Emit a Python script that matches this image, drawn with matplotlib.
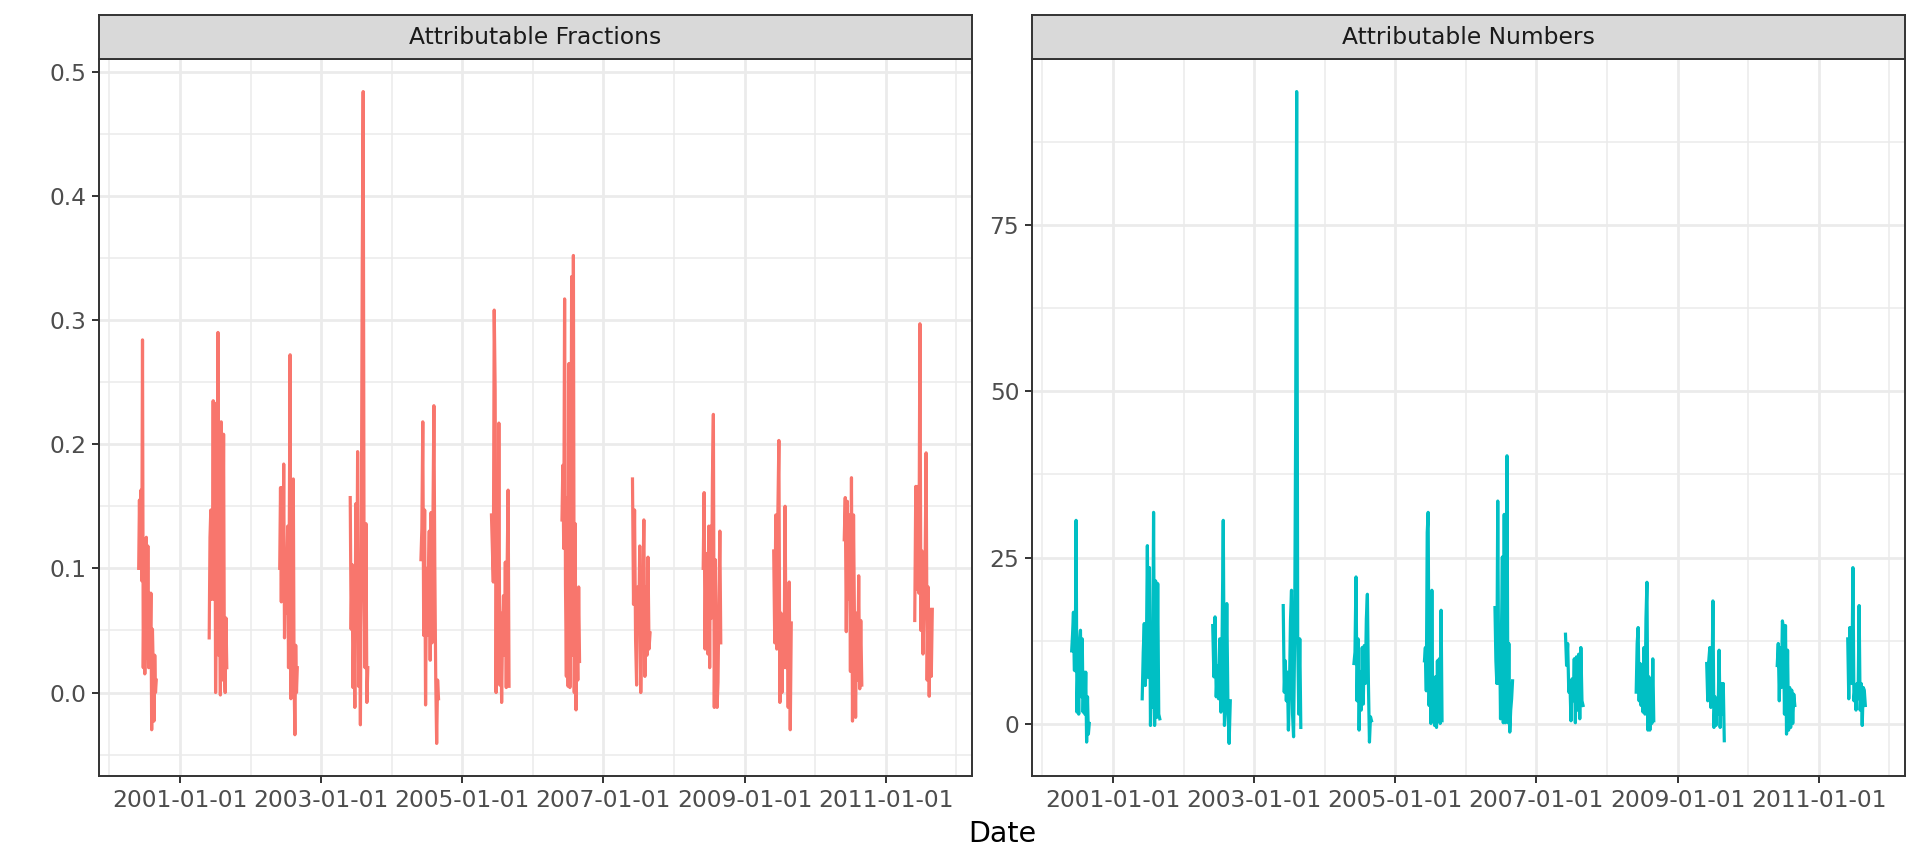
import matplotlib
matplotlib.use("Agg")
import matplotlib.pyplot as plt
import matplotlib.dates as mdates
from matplotlib.ticker import FixedLocator, MultipleLocator
import numpy as np
import pandas as pd

years = list(range(2000, 2012))

af_by_year = {
    2000: [0.10, 0.155, 0.10, 0.163, 0.09, 0.284, 0.02, 0.089, 0.015, 0.05, 0.125, 0.028,
           0.118, 0.02, 0.08, 0.038, 0.08, -0.03, 0.051, 0.02, -0.023, 0.03, 0.0, 0.01],
    2001: [0.044, 0.125, 0.147, 0.075, 0.10, 0.235, 0.075, 0.233, 0.0, 0.08, 0.14, 0.29,
           0.03, 0.09, -0.002, 0.218, 0.01, 0.085, 0.208, 0.02, 0.0, 0.06, 0.02],
    2002: [0.10, 0.165, 0.073, 0.165, 0.08, 0.184, 0.044, 0.093, 0.064, 0.10, 0.134, 0.02,
           0.135, 0.272, -0.005, 0.05, 0.03, 0.172, 0.01, -0.034, 0.038, 0.0, 0.02],
    2003: [0.157, 0.051, 0.103, 0.004, 0.057, -0.012, 0.152, 0.055, 0.194, 0.005, 0.08,
           -0.026, 0.128, 0.345, 0.484, 0.08, 0.02, 0.136, -0.008, 0.02],
    2004: [0.107, 0.132, 0.218, 0.046, 0.147, -0.01, 0.10, 0.046, 0.09, 0.13, 0.026, 0.145,
           0.04, 0.14, 0.231, 0.10, 0.01, -0.041, 0.01, -0.005],
    2005: [0.143, 0.116, 0.089, 0.308, 0.244, 0.0, 0.154, 0.01, 0.217, 0.006, 0.064, -0.008,
           0.05, 0.078, 0.03, 0.105, 0.004, 0.103, 0.163, 0.005],
    2006: [0.139, 0.183, 0.116, 0.317, 0.087, 0.013, 0.157, 0.005, 0.265, 0.004, 0.085, 0.335,
           0.03, 0.352, 0.0, 0.136, -0.014, 0.053, 0.01, 0.085, 0.025],
    2007: [0.172, 0.071, 0.147, 0.042, 0.006, 0.085, 0.051, 0.118, 0.0, 0.06, 0.085, 0.139,
           0.013, 0.085, 0.03, 0.109, 0.035, 0.048],
    2008: [0.10, 0.161, 0.035, 0.112, 0.07, 0.031, 0.134, 0.02, 0.134, 0.06, 0.173, 0.224,
           -0.012, 0.107, 0.03, -0.012, 0.008, 0.075, 0.13, 0.04],
    2009: [0.114, 0.04, 0.143, 0.035, 0.143, 0.203, -0.008, 0.064, 0.0, 0.045, 0.02, 0.15,
           0.02, 0.078, -0.012, 0.089, -0.03, 0.056],
    2010: [0.123, 0.157, 0.049, 0.154, 0.075, 0.143, 0.017, 0.173, -0.023, 0.143, 0.05, -0.02,
           0.064, 0.01, 0.094, 0.003, 0.058, 0.006],
    2011: [0.058, 0.166, 0.083, 0.166, 0.08, 0.297, 0.05, 0.114, 0.031, 0.075, 0.10, 0.193,
           0.01, 0.085, -0.003, 0.067, 0.013, 0.067],
}

an_by_year = {
    2000: [11.0, 13.5, 16.8, 8.1, 8.0, 30.6, 1.8, 8.5, 1.5, 12.5, 14.1, 4.1, 12.8, 1.8, 7.8,
           1.5, 7.8, -2.7, 4.1, -1.5, 0.1],
    2001: [3.8, 10.8, 15.1, 5.8, 10.0, 26.8, 7.0, 23.5, -0.2, 7.5, 2.5, 31.8, -0.2, 21.5,
           1.0, 21.1, 1.5, 0.8],
    2002: [14.8, 7.1, 16.1, 4.1, 8.8, 3.8, 12.8, 1.8, 12.8, 30.6, -0.2, 3.5, 18.1, 2.5,
           -2.9, 3.5],
    2003: [17.8, 4.8, 9.5, 3.5, 7.8, -0.9, 5.0, 15.5, 20.1, 1.5, -1.9, 12.5, 44.1, 95.0,
           12.8, 1.5, 12.8, -0.5],
    2004: [9.1, 10.8, 22.1, 3.5, 12.8, -0.9, 7.8, 2.1, 11.5, 3.0, 11.8, 6.1, 15.8, 19.5,
           6.1, -2.7, 1.1, 0.5],
    2005: [9.5, 11.5, 5.0, 28.8, 31.8, 2.8, 12.1, 0.1, 20.1, 1.5, 6.1, -0.2, 7.1, -0.5,
           9.5, 0.5, 9.8, 0.1, 17.1, 0.5],
    2006: [17.5, 9.5, 6.1, 33.5, 6.1, 13.5, 0.8, 13.5, 25.1, 0.2, 31.5, 0.2, 7.8, 40.3,
           0.2, 12.1, -1.2, 2.1, 3.8, 6.5],
    2007: [13.5, 8.8, 12.1, 4.8, 6.5, 0.5, 6.8, 3.5, 9.8, 0.2, 10.1, 2.1, 10.5, 0.8, 11.5,
           3.5, 2.8],
    2008: [4.8, 12.1, 14.5, 3.5, 9.1, 2.8, 7.5, 1.8, 11.5, 1.5, 15.8, 21.3, -0.9, 7.1,
           -0.9, 3.5, 0.1, 9.8, 0.5],
    2009: [9.1, 3.5, 9.5, 11.5, 2.5, 4.1, 18.5, -0.5, 4.1, -0.2, 3.5, 1.5, 11.1, -0.5,
           6.1, 1.5, 6.1, -2.5],
    2010: [8.8, 12.1, 3.5, 11.5, 5.5, 15.5, 14.5, 1.5, 14.8, -1.5, 11.1, -0.9, 5.5, -0.5,
           5.1, 0.1, 4.5, 2.8],
    2011: [12.8, 3.8, 14.5, 9.1, 6.1, 23.5, 3.5, 5.5, 2.1, 6.1, 3.8, 17.8, 2.1, 6.1,
           -0.2, 5.5, 5.1, 2.8],
}

panel_titles = ["Attributable Fractions", "Attributable Numbers"]
line_colors = ["#F8766D", "#00BFC4"]
x_major = ["2001-01-01", "2003-01-01", "2005-01-01", "2007-01-01", "2009-01-01", "2011-01-01"]
x_minor = ["2000-01-01", "2002-01-01", "2004-01-01", "2006-01-01", "2008-01-01",
           "2010-01-01", "2012-01-01"]

W, H = 1920, 865
fig = plt.figure(figsize=(W / 100, H / 100), dpi=100)
fig.patch.set_facecolor("white")

# Panelpositionen in Pixeln (links, rechts, oben, unten)
panels = [(99, 972), (1032, 1905)]
top, bottom, strip_top = 59, 776, 15

fs = 16.8
dark = "#333333"


def summer_dates(yr, n):
    return pd.date_range(f"{yr}-06-01", f"{yr}-08-31", periods=n)


x0 = mdates.date2num(pd.Timestamp(f"{years[0]}-06-01"))
x1 = mdates.date2num(pd.Timestamp(f"{years[-1]}-08-31"))
xpad = (x1 - x0) * 0.05

for i, (data, title, color) in enumerate(zip([af_by_year, an_by_year], panel_titles, line_colors)):
    l, r = panels[i]
    ax = fig.add_axes([l / W, (H - bottom) / H, (r - l) / W, (bottom - top) / H])
    allv = []
    for yr in years:
        vals = data[yr]
        allv += vals
        ax.plot(summer_dates(yr, len(vals)), vals, color=color, lw=2.3,
                solid_joinstyle="round", zorder=3)

    ymin, ymax = min(allv), max(allv)
    ypad = (ymax - ymin) * 0.05
    ax.set_ylim(ymin - ypad, ymax + ypad)
    ax.set_xlim(x0 - xpad, x1 + xpad)

    ax.xaxis.set_major_locator(FixedLocator(mdates.date2num(pd.to_datetime(x_major))))
    ax.xaxis.set_minor_locator(FixedLocator(mdates.date2num(pd.to_datetime(x_minor))))
    ax.set_xticklabels(x_major)
    if i == 0:
        ax.yaxis.set_major_locator(MultipleLocator(0.1))
        ax.yaxis.set_minor_locator(MultipleLocator(0.05))
        ax.yaxis.set_major_formatter(matplotlib.ticker.FormatStrFormatter("%.1f"))
    else:
        ax.yaxis.set_major_locator(MultipleLocator(25))
        ax.yaxis.set_minor_locator(MultipleLocator(12.5))
        ax.yaxis.set_major_formatter(matplotlib.ticker.FormatStrFormatter("%d"))

    ax.set_axisbelow(True)
    ax.grid(which="major", color="#EBEBEB", lw=2.0)
    ax.grid(which="minor", color="#EBEBEB", lw=1.1)
    ax.tick_params(which="major", direction="out", length=5.2, width=1.4, color=dark,
                   labelsize=fs, labelcolor="#4D4D4D", pad=4)
    ax.tick_params(which="minor", length=0)
    for s in ax.spines.values():
        s.set_color(dark)
        s.set_linewidth(1.4)

    # Facettenkopf
    sax = fig.add_axes([l / W, (H - top) / H, (r - l) / W, (top - strip_top) / H])
    sax.set_facecolor("#D9D9D9")
    sax.set_xticks([])
    sax.set_yticks([])
    for s in sax.spines.values():
        s.set_color(dark)
        s.set_linewidth(1.4)
    sax.text(0.5, 0.5, title, ha="center", va="center", fontsize=fs, color="#1A1A1A",
             transform=sax.transAxes)

fig.text(1002 / W, (H - 834) / H, "Date", ha="center", va="center", fontsize=20.5,
         color="black")

plt.savefig("out.png", dpi=100)
